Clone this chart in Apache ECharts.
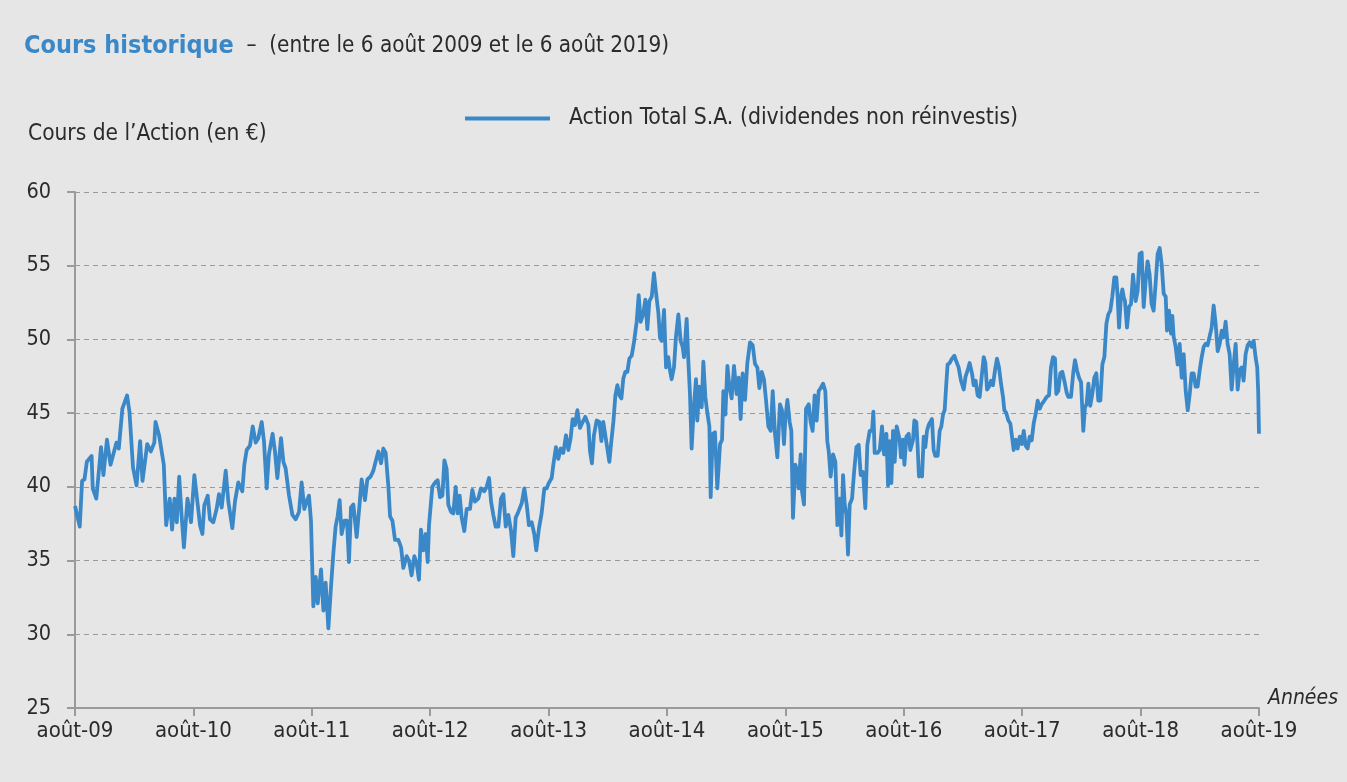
<!DOCTYPE html>
<html>
<head>
<meta charset="utf-8">
<script src="https://cdn.jsdelivr.net/npm/echarts@6/dist/echarts.min.js"></script>
<style>
html,body{margin:0;padding:0;background:#e6e6e6;}
#chart{width:1347px;height:782px;}
</style>
</head>
<body>
<div id="chart"></div>
<script>
// X tick labels (one per year, août 2009 .. août 2019)
const xTickLabels = ['août-09','août-10','août-11','août-12','août-13','août-14','août-15','août-16','août-17','août-18','août-19'];
// Time in years since 6 Aug 2009
const years = [
0.00,0.04,0.06,0.08,0.10,0.14,0.15,0.18,0.22,0.24,0.27,0.30,0.35,0.37,0.40,0.44,0.46,0.49,0.52,0.55,0.57,0.61,0.64,0.67,0.68,0.71,0.75,0.77,0.80,0.82,0.84,0.86,0.88,0.90,0.92,0.95,0.98,
1.008,1.028,1.056,1.076,1.092,1.121,1.140,1.168,1.196,1.216,1.239,1.273,1.295,1.329,1.351,1.379,1.413,1.430,1.450,1.478,1.501,1.526,1.548,1.577,1.596,1.619,1.638,1.669,1.689,1.709,1.740,1.760,1.779,1.808,1.836,1.864,1.892,1.914,1.937,1.965,
1.976,1.993,2.013,2.033,2.050,2.078,2.098,2.117,2.140,2.162,2.182,2.201,2.218,2.235,2.252,2.275,2.297,2.314,2.331,2.351,2.379,2.399,2.421,2.449,2.469,2.497,2.520,2.542,2.562,2.585,2.604,2.624,2.647,2.661,2.681,2.703,2.731,2.754,2.773,2.801,2.821,2.843,2.866,2.886,2.905,2.922,2.942,2.962,2.979,
2.990,3.007,3.018,3.041,3.063,3.083,3.103,3.120,3.139,3.153,3.176,3.195,3.215,3.232,3.249,3.266,3.288,3.308,3.336,3.356,3.378,3.406,3.429,3.457,3.477,3.497,3.514,3.533,3.553,3.576,3.598,3.618,3.638,3.660,3.683,3.702,3.722,3.744,3.773,3.795,3.815,3.834,3.857,3.879,3.896,3.919,3.941,3.964,3.984,
3.998,4.026,4.040,4.062,4.082,4.102,4.124,4.147,4.167,4.186,4.203,4.223,4.243,4.265,4.288,4.310,4.336,4.350,4.366,4.383,4.406,4.429,4.446,4.462,4.479,4.496,4.513,4.530,4.547,4.564,4.581,4.598,4.615,4.631,4.648,4.665,4.682,4.702,4.721,4.744,4.761,4.778,4.801,4.817,4.834,4.851,4.871,4.890,4.907,4.927,4.941,
4.955,4.975,4.992,5.011,5.025,5.039,5.059,5.076,5.096,5.115,5.132,5.144,5.166,5.181,5.194,5.208,5.228,5.245,5.256,5.273,5.293,5.307,5.324,5.341,5.358,5.369,5.386,5.405,5.425,5.448,5.465,5.476,5.493,5.510,5.527,5.546,5.566,5.588,5.605,5.622,5.639,5.659,5.678,5.701,5.724,5.743,5.763,5.780,5.800,5.819,5.836,5.856,5.876,5.893,5.912,5.932,5.954,5.971,5.988,
6.000,6.017,6.036,6.050,6.064,6.084,6.101,6.112,6.129,6.140,6.157,6.174,6.197,6.213,6.230,6.247,6.264,6.281,6.298,6.318,6.337,6.354,6.366,6.382,6.402,6.422,6.439,6.459,6.473,6.487,6.501,6.515,6.529,6.543,6.563,6.580,6.600,6.619,6.636,6.656,6.675,6.692,6.712,6.732,6.743,6.754,6.777,6.797,6.816,6.833,6.853,6.867,6.881,6.895,6.909,6.923,6.940,
6.965,6.976,6.993,7.005,7.022,7.041,7.055,7.078,7.089,7.106,7.117,7.128,7.140,7.154,7.168,7.182,7.196,7.210,7.224,7.238,7.252,7.266,7.286,7.303,7.317,7.331,7.345,7.359,7.370,7.387,7.407,7.427,7.444,7.463,7.483,7.506,7.522,7.539,7.556,7.576,7.590,7.607,7.624,7.641,7.658,7.675,7.689,7.703,7.720,7.737,7.753,7.770,7.787,7.804,7.821,7.838,7.849,7.866,7.883,7.900,7.914,7.928,7.945,
7.962,7.979,7.996,8.013,8.029,8.046,8.063,8.080,8.097,8.114,8.131,8.148,8.164,8.187,8.206,8.226,8.243,8.260,8.277,8.288,8.305,8.322,8.339,8.356,8.375,8.389,8.412,8.432,8.446,8.463,8.480,8.497,8.516,8.530,8.544,8.559,8.575,8.592,8.609,8.626,8.643,8.660,8.677,8.694,8.711,8.727,8.744,8.761,8.778,8.795,8.806,8.818,8.834,8.846,8.857,8.868,8.885,8.902,8.919,
8.936,8.958,8.975,8.992,9.009,9.026,9.043,9.059,9.076,9.093,9.110,9.127,9.144,9.161,9.178,9.195,9.212,9.223,9.240,9.257,9.268,9.279,9.296,9.313,9.330,9.347,9.364,9.381,9.398,9.415,9.431,9.448,9.465,9.482,9.499,9.516,9.533,9.549,9.566,9.583,9.600,9.617,9.634,9.651,9.668,9.685,9.702,9.718,9.735,9.752,9.769,9.786,9.803,9.820,9.837,9.854,9.870,9.887,9.904,9.921,9.938,9.955,9.971,9.985,9.993,10.000
];
// Share price (EUR)
const prices = [
38.7,37.3,40.4,40.5,41.7,42.1,39.9,39.2,42.7,40.8,43.2,41.5,43.0,42.6,45.3,46.2,45.1,41.3,40.1,43.1,40.4,42.9,42.4,43.0,44.4,43.5,41.5,37.4,39.2,37.1,39.2,37.6,40.7,38.1,35.9,39.2,37.6,
40.8,39.4,37.4,36.8,38.75,39.4,37.8,37.6,38.5,39.5,38.6,41.1,39.0,37.2,39.0,40.3,39.7,41.5,42.5,42.8,44.1,43.0,43.3,44.4,43.1,39.9,42.2,43.6,42.4,40.6,43.3,41.7,41.25,39.4,38.1,37.8,38.3,40.3,38.5,39.2,
39.4,37.7,31.9,33.9,32.1,34.4,31.6,33.5,30.4,33.2,35.5,37.3,38.0,39.1,36.8,37.7,37.7,34.9,38.6,38.8,36.6,38.4,40.5,39.1,40.5,40.7,41.1,41.8,42.4,41.6,42.6,42.3,40.0,38.0,37.7,36.4,36.4,35.9,34.5,35.3,35.0,34.0,35.3,34.8,33.7,37.1,35.7,36.8,34.9,
37.4,39.0,40.0,40.3,40.45,39.3,39.4,41.8,41.2,38.8,38.3,38.2,40.0,38.2,39.4,37.9,37.0,38.5,38.5,39.8,39.0,39.2,39.9,39.7,40.0,40.6,39.0,38.1,37.3,37.3,39.2,39.5,37.3,38.1,37.0,35.3,37.9,38.3,38.9,39.9,38.8,37.4,37.6,36.8,35.7,37.2,38.2,39.9,39.9,
40.2,40.6,41.5,42.7,41.9,42.6,42.3,43.5,42.5,43.3,44.6,44.2,45.2,44.0,44.4,44.75,44.2,42.4,41.6,43.5,44.5,44.4,43.1,44.4,43.5,42.6,41.7,43.1,44.4,46.2,46.9,46.2,46.0,47.35,47.8,47.8,48.7,48.9,49.8,51.2,53.0,51.2,51.8,52.7,50.7,52.6,52.9,54.5,53.2,51.8,50.1,
49.9,52.0,48.1,48.8,47.9,47.3,48.1,50.2,51.7,49.9,49.5,48.8,51.4,48.4,46.3,42.6,45.6,47.3,44.5,46.8,45.4,48.5,46.1,45.0,44.1,39.3,43.6,43.7,39.9,42.9,43.2,46.5,44.9,48.2,46.8,46.0,48.2,46.3,47.4,44.6,47.7,45.9,48.35,49.8,49.6,48.35,48.1,46.7,47.8,47.3,45.9,44.1,43.8,46.5,43.6,42.0,45.6,45.2,42.9,
44.7,45.9,44.4,43.8,37.9,41.5,41.0,39.9,42.2,39.7,38.8,45.3,45.6,44.4,43.8,46.2,44.5,46.5,46.7,47.0,46.5,43.1,42.4,40.7,42.2,41.7,37.4,39.2,36.7,40.8,38.8,38.1,35.4,38.8,39.2,41.0,42.7,42.85,40.8,41.0,38.55,42.85,43.8,43.8,45.1,42.3,42.3,42.5,44.1,42.2,43.6,40.1,43.1,40.25,43.8,41.7,44.1,
43.2,42.0,43.2,41.5,43.4,43.6,42.5,43.2,44.5,44.4,42.7,40.7,41.1,40.7,43.4,42.7,43.8,44.2,44.4,44.6,42.5,42.1,42.1,43.8,44.1,44.9,45.2,47.0,48.3,48.4,48.7,48.9,48.5,48.1,47.2,46.6,47.5,47.9,48.4,47.7,46.9,47.2,46.2,46.1,47.5,48.8,48.4,46.6,46.8,47.2,46.9,47.9,48.7,48.1,47.0,46.1,45.2,45.0,44.5,44.3,43.4,42.5,43.2,
42.6,43.4,42.9,43.8,42.8,42.6,43.4,43.15,44.3,44.95,45.85,45.3,45.6,45.85,46.1,46.2,48.1,48.8,48.7,46.3,46.5,47.7,47.8,47.2,46.4,46.1,46.1,47.8,48.6,47.9,47.4,47.1,43.8,45.4,45.6,47.0,45.5,46.3,47.4,47.7,45.85,45.85,48.3,48.8,51.05,51.7,51.95,52.9,54.2,54.2,52.9,50.8,52.9,53.4,52.9,52.6,50.8,52.2,52.4,
54.4,52.6,53.3,55.8,55.9,52.2,54.0,55.3,54.4,52.4,51.95,53.8,55.8,56.2,55.1,53.1,52.9,50.6,51.95,50.4,51.6,50.2,49.5,48.3,49.7,47.4,49.0,46.5,45.2,46.3,47.7,47.7,46.8,46.8,47.9,48.8,49.5,49.7,49.6,50.2,50.8,52.3,51.05,49.2,49.7,50.6,50.15,51.2,49.7,49.0,46.6,48.3,49.7,46.6,47.9,48.1,47.2,49.0,49.6,49.8,49.5,49.9,48.8,48.1,46.5,43.6
];
const seriesName = 'Action Total S.A. (dividendes non réinvestis)';

const FONT = "'Liberation Sans Narrow', 'DejaVu Sans Condensed', Roboto, sans-serif";
const BLUE = '#3b88c9';
const TXT = '#2b2b2b';

const chart = echarts.init(document.getElementById('chart'), null, {renderer: 'canvas'});
chart.setOption({
  backgroundColor: '#e6e6e6',
  animation: false,
  title: [
    {
      left: 24, top: 34, padding: 0,
      text: '{a|Cours historique}{b|  –  (entre le 6 août 2009 et le 6 août 2019)}',
      textStyle: {
        rich: {
          a: {fontFamily: FONT, fontSize: 25, fontWeight: 'bold', color: BLUE},
          b: {fontFamily: FONT, fontSize: 22.3, fontWeight: 'normal', color: TXT}
        }
      }
    },
    {
      left: 28, top: 123, padding: 0,
      text: "Cours de l’Action (en €)",
      textStyle: {fontFamily: FONT, fontSize: 22.5, fontWeight: 'normal', color: TXT}
    },
    {
      left: 1268, top: 688, padding: 0,
      text: 'Années',
      textStyle: {fontFamily: FONT, fontSize: 21, fontWeight: 'normal', fontStyle: 'italic', color: TXT}
    }
  ],
  legend: {
    left: 465, top: 107, padding: 0,
    icon: 'rect',
    itemWidth: 85, itemHeight: 4,
    textStyle: {fontFamily: FONT, fontSize: 22.8, color: TXT, padding: [0, 0, 0, 14]},
    data: [seriesName]
  },
  grid: {left: 75, right: 88, top: 192, bottom: 74, containLabel: false},
  xAxis: {
    type: 'value', min: 0, max: 10, interval: 1,
    axisLine: {show: true, onZero: false, lineStyle: {color: '#9a9a9a', width: 2}},
    axisTick: {show: true, length: 8, lineStyle: {color: '#9a9a9a', width: 2}},
    axisLabel: {fontFamily: FONT, fontSize: 22, color: TXT, margin: 12,
      formatter: v => xTickLabels[Math.round(v)]},
    splitLine: {show: false}
  },
  yAxis: {
    type: 'value', min: 25, max: 60, interval: 5,
    axisLine: {show: true, lineStyle: {color: '#9a9a9a', width: 2}},
    axisTick: {show: true, length: 8, lineStyle: {color: '#9a9a9a', width: 2}},
    axisLabel: {fontFamily: FONT, fontSize: 21.5, color: TXT, margin: 24},
    splitLine: {show: true, lineStyle: {color: '#9a9a9a', width: 1.2, type: [5, 4]}}
  },
  series: [{
    name: seriesName,
    type: 'line',
    data: years.map((t, i) => [t, prices[i]]),
    showSymbol: false,
    symbol: 'none',
    lineStyle: {color: BLUE, width: 3.8, join: 'round'},
    itemStyle: {color: BLUE},
    clip: false
  }]
});
</script>
</body>
</html>
